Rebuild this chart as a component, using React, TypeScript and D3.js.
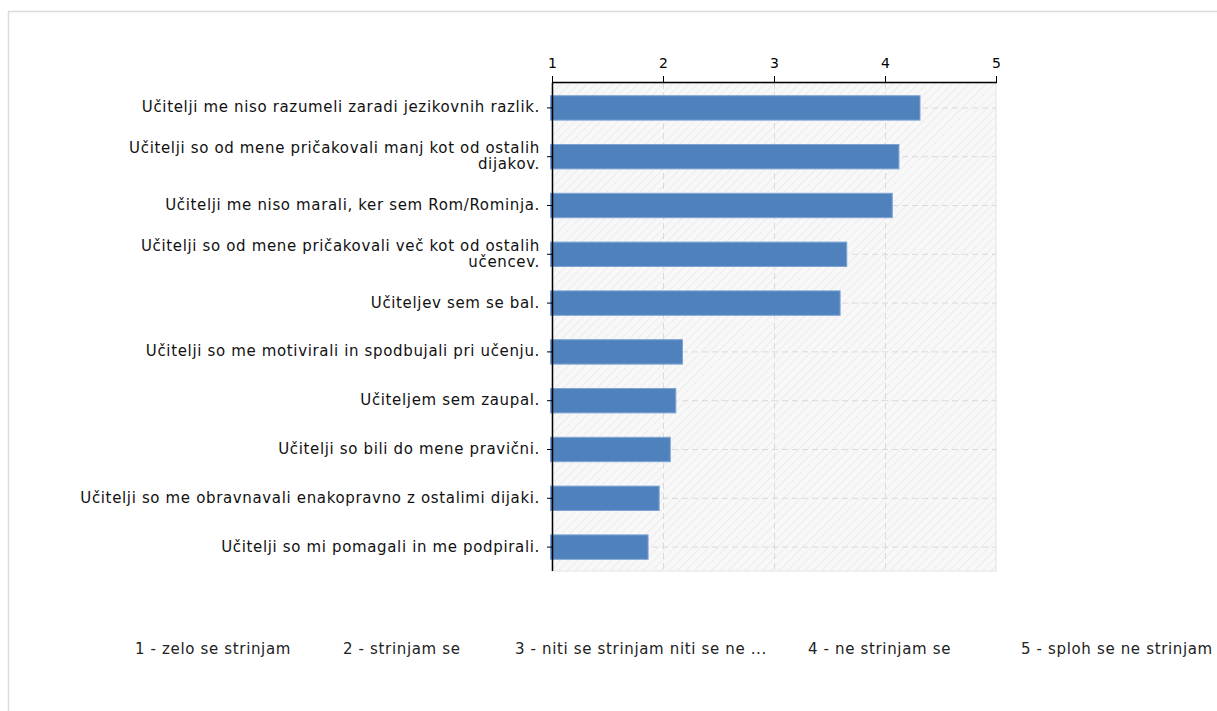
import React, { useEffect, useRef } from "react";
import * as d3 from "d3";

const categories: string[][] = [
  ["Učitelji me niso razumeli zaradi jezikovnih razlik."],
  ["Učitelji so od mene pričakovali manj kot od ostalih", "dijakov."],
  ["Učitelji me niso marali, ker sem Rom/Rominja."],
  ["Učitelji so od mene pričakovali več kot od ostalih", "učencev."],
  ["Učiteljev sem se bal."],
  ["Učitelji so me motivirali in spodbujali pri učenju."],
  ["Učiteljem sem zaupal."],
  ["Učitelji so bili do mene pravični."],
  ["Učitelji so me obravnavali enakopravno z ostalimi dijaki."],
  ["Učitelji so mi pomagali in me podpirali."],
];
const values: number[] = [4.32, 4.13, 4.07, 3.66, 3.6, 2.18, 2.12, 2.07, 1.97, 1.87];
const ticks: number[] = [1, 2, 3, 4, 5];
const legendLabels: string[] = [
  "1 - zelo se strinjam",
  "2 - strinjam se",
  "3 - niti se strinjam niti se ne ...",
  "4 - ne strinjam se",
  "5 - sploh se ne strinjam",
];
const legendX: number[] = [135, 343, 515, 808, 1021];

const W = 1217;
const H = 711;
const FONT = "'DejaVu Sans', Verdana, sans-serif";
const FS = 15;
const LS = "0.65px";

export default function App() {
  const ref = useRef<SVGSVGElement>(null);
  useEffect(() => {
    const svg = d3.select(ref.current!);
    svg.selectAll("*").remove();
    const left = 552, right = 996, top = 83, bottom = 571;
    const x = d3.scaleLinear().domain([1, 5]).range([left, right]);
    const idx = categories.map((_, i) => String(i));
    const y = d3.scaleBand().domain(idx).range([top, bottom]).paddingInner(0.5).paddingOuter(0.25);

    const defs = svg.append("defs");
    const pat = defs.append("pattern").attr("id", "hatch").attr("patternUnits", "userSpaceOnUse")
      .attr("width", 6).attr("height", 6).attr("patternTransform", "rotate(45)");
    pat.append("rect").attr("width", 6).attr("height", 6).attr("fill", "#f8f8f8");
    pat.append("line").attr("x1", 0).attr("y1", 0).attr("x2", 0).attr("y2", 6)
      .attr("stroke", "#e9e9e9").attr("stroke-width", 1.5);

    // frame
    svg.append("rect").attr("x", 8.5).attr("y", 11.5).attr("width", W).attr("height", H)
      .attr("fill", "none").attr("stroke", "#dcdcdc").attr("stroke-width", 1.5);

    // plot bg
    svg.append("rect").attr("x", left).attr("y", top).attr("width", right - left).attr("height", bottom - top)
      .attr("fill", "url(#hatch)").attr("stroke", "#e2e2e2");

    // grid
    const g = svg.append("g");
    g.selectAll("line.vg").data(ticks.slice(1, -1)).join("line")
      .attr("x1", d => x(d) + 0.5).attr("x2", d => x(d) + 0.5).attr("y1", top).attr("y2", bottom)
      .attr("stroke", "#dadada").attr("stroke-dasharray", "6,4");
    g.selectAll("line.hg").data(idx).join("line")
      .attr("x1", left).attr("x2", right)
      .attr("y1", d => y(d)! + y.bandwidth() / 2 + 0.5).attr("y2", d => y(d)! + y.bandwidth() / 2 + 0.5)
      .attr("stroke", "#dadada").attr("stroke-dasharray", "6,4");

    // bars
    svg.append("g").selectAll("rect").data(values).join("rect")
      .attr("x", left - 1.5).attr("y", (_, i) => y(String(i))! + 0.5)
      .attr("width", d => x(d) - left + 1).attr("height", y.bandwidth())
      .attr("fill", "#4f81bd").attr("stroke", "#7fa3d4").attr("stroke-width", 1);

    // top axis
    const ax = svg.append("g").attr("transform", `translate(0,${top})`);
    ax.append("line").attr("x1", left).attr("x2", right + 1).attr("y1", -0.5).attr("y2", -0.5)
      .attr("stroke", "#000").attr("stroke-width", 1.5);
    ax.selectAll("line.t").data(ticks).join("line")
      .attr("x1", d => x(d) + 0.5).attr("x2", d => x(d) + 0.5).attr("y1", 0).attr("y2", -7)
      .attr("stroke", "#000");
    ax.selectAll("text").data(ticks).join("text")
      .attr("x", d => x(d) + 0.5).attr("y", -15).attr("text-anchor", "middle")
      .attr("font-family", FONT).attr("font-size", 14).attr("fill", "#000").text(d => String(d));

    // left axis
    const ay = svg.append("g");
    ay.append("line").attr("x1", left + 0.5).attr("x2", left + 0.5).attr("y1", top).attr("y2", bottom)
      .attr("stroke", "#000").attr("stroke-width", 1.5);
    ay.selectAll("line.t").data(idx).join("line")
      .attr("x1", left - 5).attr("x2", left)
      .attr("y1", d => y(d)! + y.bandwidth() / 2 + 0.5).attr("y2", d => y(d)! + y.bandwidth() / 2 + 0.5)
      .attr("stroke", "#000");
    const lab = ay.selectAll("text").data(categories).join("text")
      .attr("text-anchor", "end").attr("font-family", FONT).attr("font-size", FS)
      .attr("letter-spacing", LS).attr("fill", "#111");
    lab.each(function (lines, i) {
      const cy = y(String(i))! + y.bandwidth() / 2;
      const t = d3.select(this);
      lines.forEach((ln, k) => {
        t.append("tspan").attr("x", left - 12)
          .attr("y", cy + 5 + (k - (lines.length - 1) / 2) * 16).text(ln);
      });
    });

    // legend
    svg.append("g").selectAll("text").data(legendLabels).join("text")
      .attr("x", (_, i) => legendX[i]).attr("y", 654)
      .attr("font-family", FONT).attr("font-size", FS).attr("letter-spacing", LS)
      .attr("fill", "#222").text(d => d);
  }, []);
  return <svg ref={ref} width={W} height={H} style={{ position: "absolute", left: 0, top: 0 }} />;
}
